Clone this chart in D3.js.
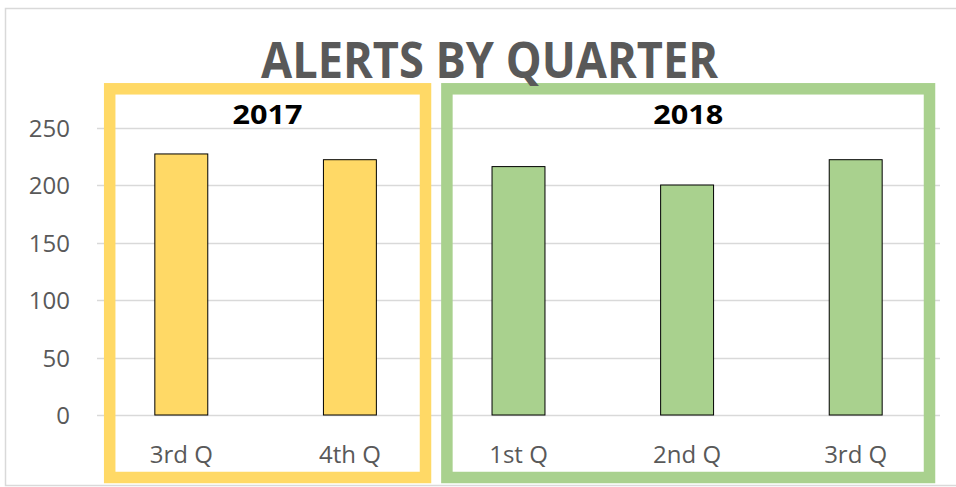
<!DOCTYPE html>
<html>
<head>
<meta charset="utf-8">
<script src="https://cdn.jsdelivr.net/npm/d3@7"></script>
<style>
  html, body { margin: 0; padding: 0; background: #fff; }
  svg { display: block; }
</style>
</head>
<body>
<svg id="chart" width="956" height="487"></svg>
<script>
// ---- data ----
const categories = ["3rd Q", "4th Q", "1st Q", "2nd Q", "3rd Q"];
const years = ["2017", "2017", "2018", "2018", "2018"];
const values = [227, 222, 216, 200, 222];
const yTicks = [0, 50, 100, 150, 200, 250];
const groupNames = ["2017", "2018"];
const groupColors = ["#FFD966", "#A9D18E"];
const title = "ALERTS BY QUARTER";

// ---- layout ----
const svg = d3.select("#chart");
const W = 956, H = 487;
const plot = { left: 97, right: 940, top: 127.5, bottom: 415 };

svg.append("rect")
  .attr("x", 5.5).attr("y", 8.5)
  .attr("width", W + 10).attr("height", 477)
  .attr("fill", "#fff").attr("stroke", "#d9d9d9").attr("stroke-width", 1.5);

const x = d3.scaleBand()
  .domain(d3.range(categories.length))
  .range([plot.left, plot.right])
  .padding(0);
const y = d3.scaleLinear().domain([0, 250]).range([plot.bottom, plot.top]);

// gridlines
svg.append("g").selectAll("line").data(yTicks).join("line")
  .attr("x1", plot.left).attr("x2", plot.right)
  .attr("y1", d => Math.round(y(d)) + 0.5).attr("y2", d => Math.round(y(d)) + 0.5)
  .attr("stroke", "#d9d9d9").attr("stroke-width", 1.3);

// y axis labels
const yAxis = d3.axisLeft(y).tickValues(yTicks).tickSize(0).tickPadding(0);
const gy = svg.append("g").attr("transform", "translate(70,0)").call(yAxis);
gy.select(".domain").remove();
gy.selectAll("text")
  .attr("font-family", "'Open Sans', sans-serif")
  .attr("font-size", 24)
  .attr("fill", "#595959")
  .attr("dy", "0.36em");

// bars
const barW = x.bandwidth() * 0.314;
svg.append("g").selectAll("rect").data(values).join("rect")
  .attr("x", (d, i) => x(i) + (x.bandwidth() - barW) / 2)
  .attr("y", d => y(d))
  .attr("width", barW)
  .attr("height", d => y(0) - y(d))
  .attr("fill", (d, i) => groupColors[groupNames.indexOf(years[i])])
  .attr("stroke", "#000").attr("stroke-width", 1);

// x axis labels
const xAxis = d3.axisBottom(x).tickSize(0).tickFormat(i => categories[i]);
const gx = svg.append("g").attr("transform", "translate(0,440)").call(xAxis);
gx.select(".domain").remove();
gx.selectAll("text")
  .attr("font-family", "'Open Sans', sans-serif")
  .attr("font-size", 24)
  .attr("fill", "#595959")
  .attr("y", 0).attr("dy", "0.95em");

// group boxes
groupNames.forEach((g, gi) => {
  const idx = d3.range(categories.length).filter(i => years[i] === g);
  const x0 = x(idx[0]) + 12.7;
  const x1 = x(idx[idx.length - 1]) + x.bandwidth() - (gi === 0 ? 8.7 : 10.5);
  const y0 = 88.8, y1 = 477.5;
  svg.append("rect")
    .attr("x", x0).attr("y", y0)
    .attr("width", x1 - x0).attr("height", y1 - y0)
    .attr("fill", "none")
    .attr("stroke", groupColors[gi]).attr("stroke-width", 11.5);
  svg.append("text")
    .attr("x", (x0 + x1) / 2).attr("y", 123.5)
    .attr("text-anchor", "middle")
    .attr("font-family", "'Open Sans', sans-serif")
    .attr("font-weight", "bold")
    .attr("font-size", 27)
    .attr("textLength", 70).attr("lengthAdjust", "spacingAndGlyphs")
    .attr("fill", "#000")
    .text(g);
});

// title
svg.append("text")
  .attr("x", 489.5).attr("y", 78)
  .attr("text-anchor", "middle")
  .attr("font-family", "'Open Sans', sans-serif")
  .attr("font-weight", "bold")
  .attr("font-size", 50)
  .attr("textLength", 457).attr("lengthAdjust", "spacingAndGlyphs")
  .attr("fill", "#595959")
  .text(title);
</script>
</body>
</html>
